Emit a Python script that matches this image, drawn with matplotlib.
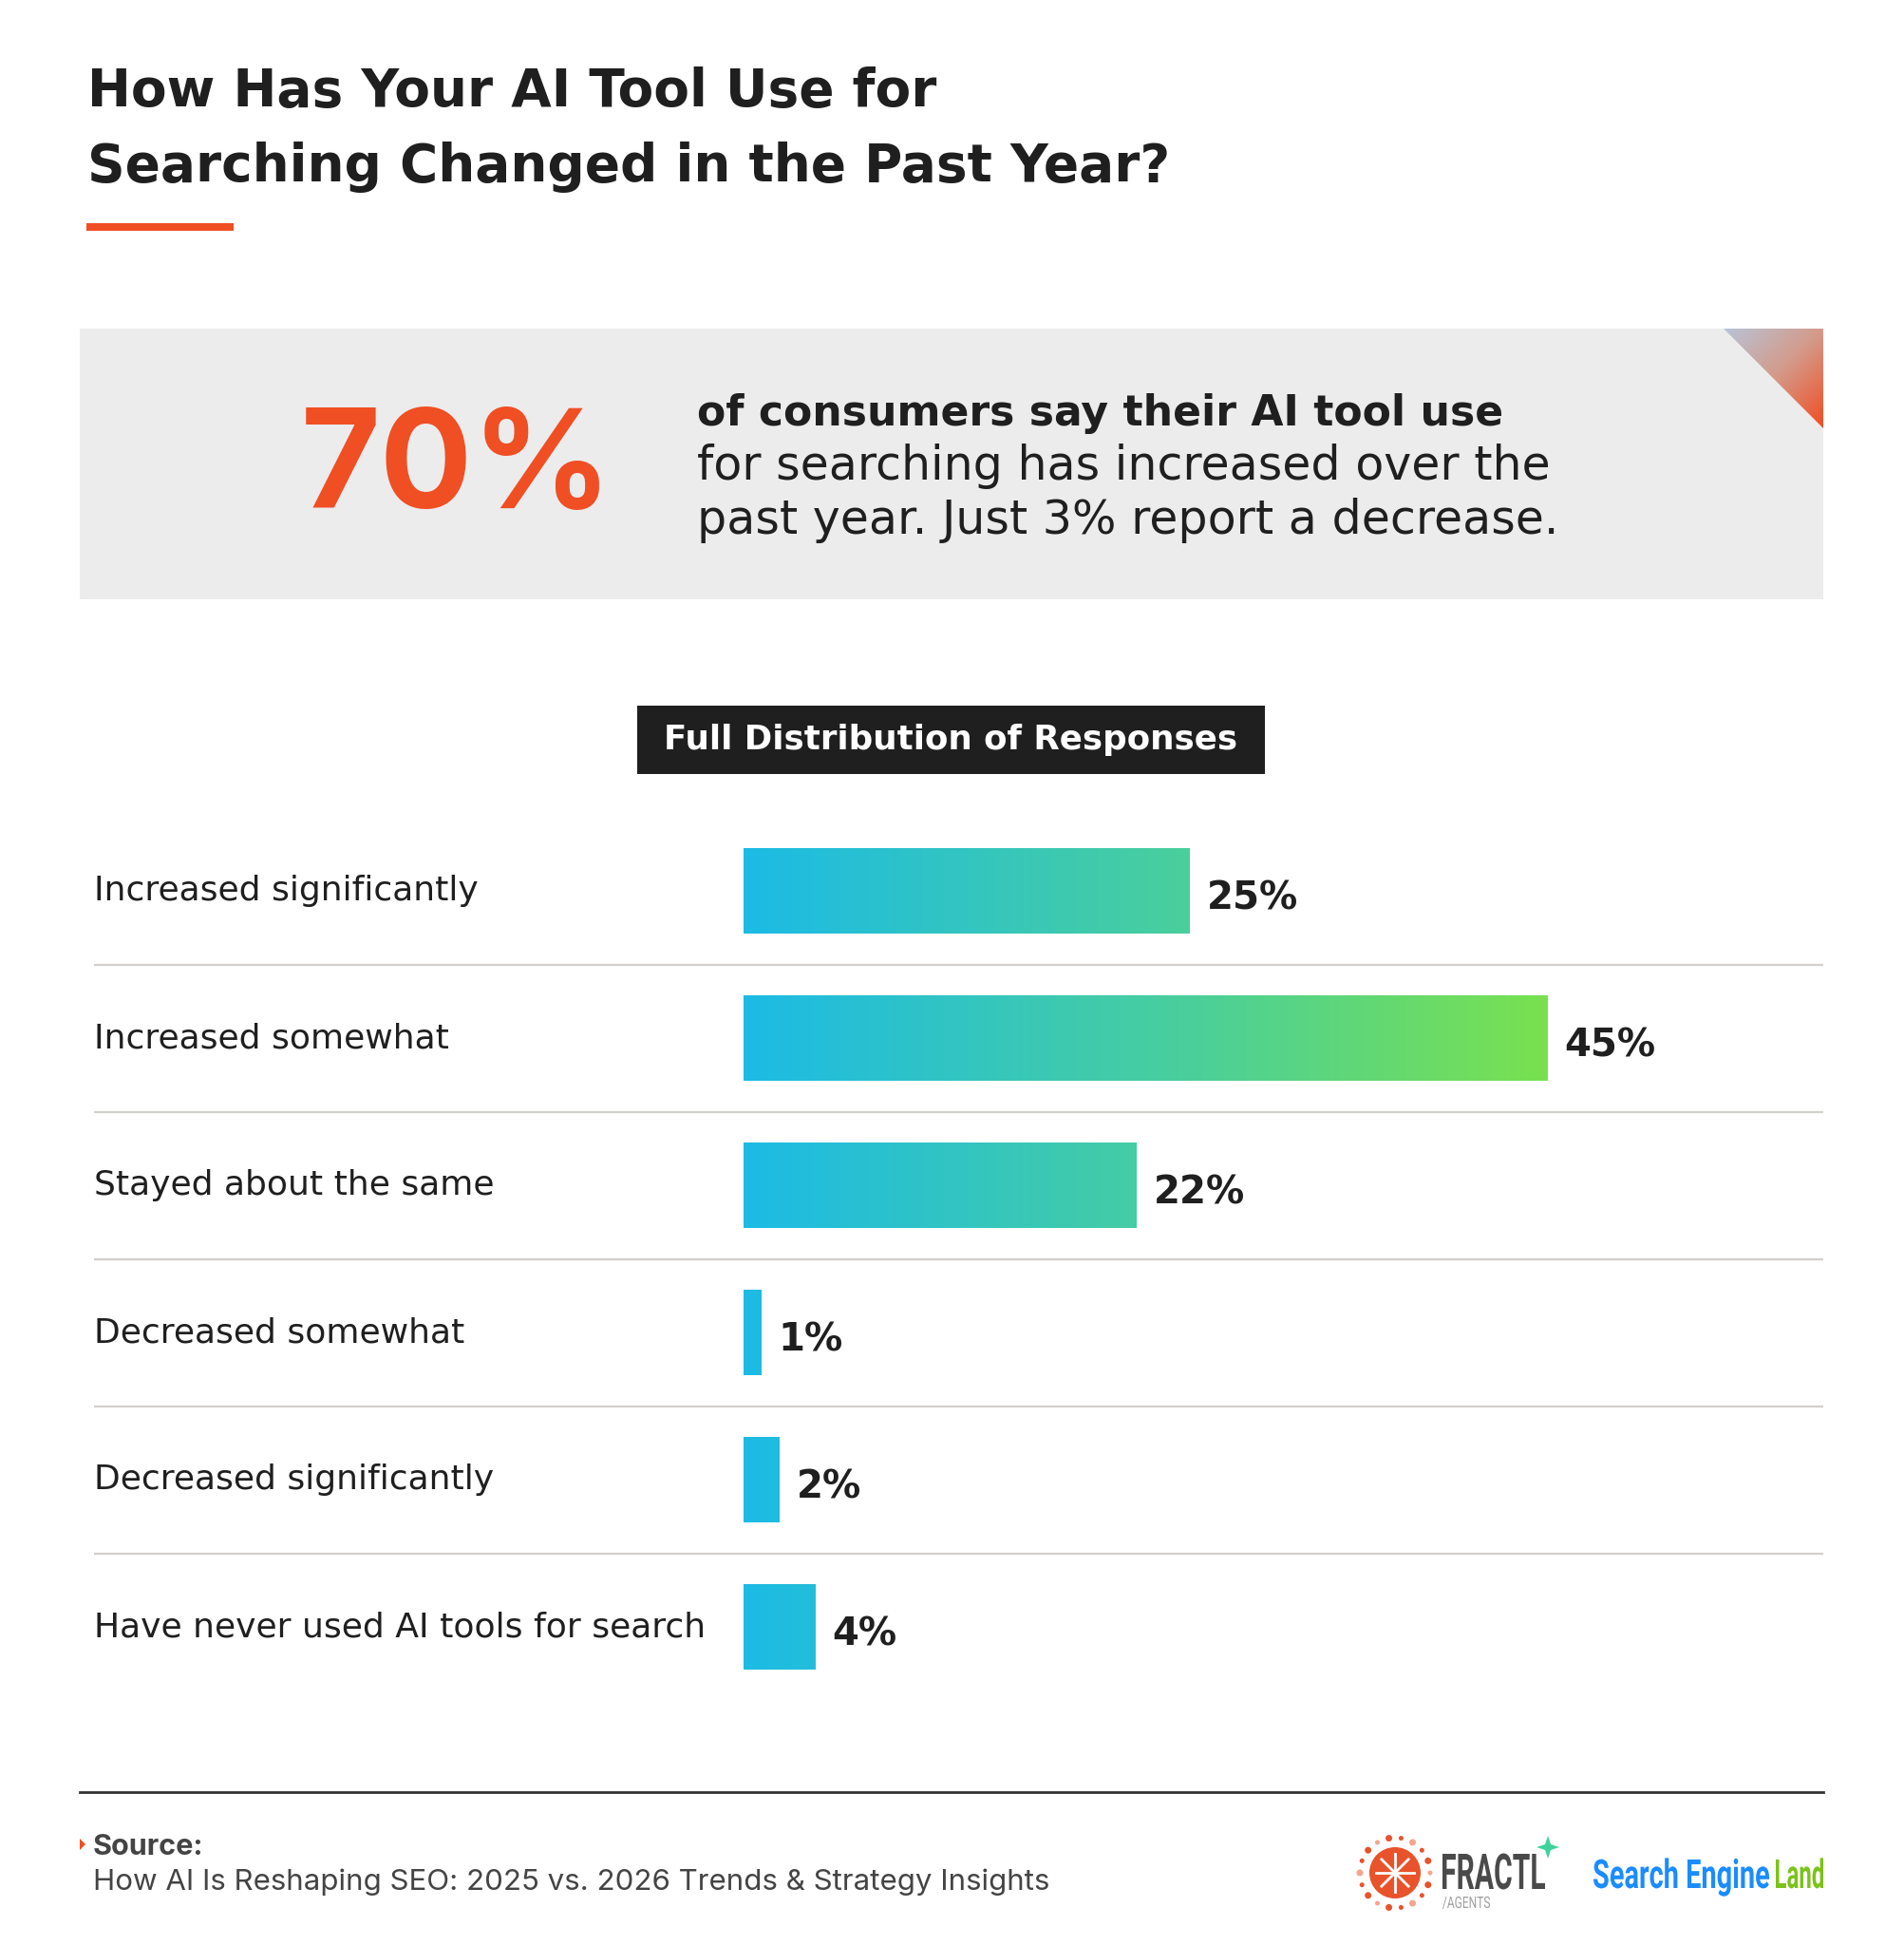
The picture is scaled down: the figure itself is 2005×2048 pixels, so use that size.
import numpy as np
import matplotlib
matplotlib.use("Agg")
import matplotlib.pyplot as plt
from matplotlib.colors import LinearSegmentedColormap
from matplotlib.patches import Rectangle, Polygon, Circle, PathPatch
from matplotlib.textpath import TextPath
from matplotlib.font_manager import FontProperties
from matplotlib.transforms import Affine2D

# ---- data ----
categories = ["Increased significantly", "Increased somewhat", "Stayed about the same",
              "Decreased somewhat", "Decreased significantly",
              "Have never used AI tools for search"]
values = [25, 45, 22, 1, 2, 4]
value_labels = [f"{v}%" for v in values]

title_lines = ["How Has Your AI Tool Use for", "Searching Changed in the Past Year?"]
headline_stat = "70%"
headline_bold = "of consumers say their AI tool use"
headline_rest = ["for searching has increased over the", "past year. Just 3% report a decrease."]
section_title = "Full Distribution of Responses"
source_label = "Source:"
source_text = "How AI Is Reshaping SEO: 2025 vs. 2026 Trends & Strategy Insights"

W, H, DPI = 2005, 2048, 100
ORANGE = "#f04e23"
DARK = "#1f1f1f"
HEAD = "Inter"
WIDE = "DejaVu Sans"

fig = plt.figure(figsize=(W / DPI, H / DPI), dpi=DPI)
fig.patch.set_facecolor("white")

# background axes in pixel units for the decorations
bg = fig.add_axes([0, 0, 1, 1])
bg.set_xlim(0, W)
bg.set_ylim(H, 0)
bg.axis("off")


def fit_text(ax, s, x, baseline, width, height, color, family="Roboto", weight="bold"):
    # squeeze a text path into a box (used for the condensed logo type)
    tp = TextPath((0, 0), s, size=100, prop=FontProperties(family=family, weight=weight))
    ext = tp.get_extents()
    cap = TextPath((0, 0), "H", size=100, prop=FontProperties(family=family, weight=weight)).get_extents()
    sx = width / ext.width
    sy = height / cap.height
    tr = Affine2D().translate(-ext.x0, 0).scale(sx, -sy).translate(x, baseline)
    ax.add_patch(PathPatch(tr.transform_path(tp), facecolor=color, edgecolor="none"))


# title
bg.text(92, 112, title_lines[0], family=WIDE, fontweight="bold", fontsize=39.5, color=DARK, va="baseline")
bg.text(92, 191, title_lines[1], family=WIDE, fontweight="bold", fontsize=39.5, color=DARK, va="baseline")
bg.add_patch(Rectangle((91, 235), 155, 8, color=ORANGE, lw=0))

# callout box
bg.add_patch(Rectangle((84, 346), 1836, 285, color="#ececec", lw=0))
tri = Polygon([(1815, 346), (1920, 346), (1920, 451)], closed=True, facecolor="none", edgecolor="none")
bg.add_patch(tri)
gx, gy = np.meshgrid(np.linspace(0, 1, 100), np.linspace(0, 1, 100))
corner_cmap = LinearSegmentedColormap.from_list("corner", ["#b8c4d8", "#d49a8a", ORANGE])
im = bg.imshow((gx + gy) / 2, cmap=corner_cmap, extent=(1815, 1920, 451, 346),
               origin="upper", aspect="auto", zorder=2)
im.set_clip_path(tri)
bg.set_xlim(0, W)
bg.set_ylim(H, 0)

bg.text(317, 535, headline_stat, family=HEAD, fontweight="bold", fontsize=104, color=ORANGE, va="baseline")
bg.text(734, 448, headline_bold, family=WIDE, fontweight="bold", fontsize=31.8, color=DARK, va="baseline")
for i, line in enumerate(headline_rest):
    bg.text(734, 505 + 57 * i, line, family=WIDE, fontsize=35.3, color=DARK, va="baseline")

# section label
bg.add_patch(Rectangle((671, 743), 661, 72, color=DARK, lw=0))
bg.text(1001, 779, section_title, family=WIDE, fontweight="bold", fontsize=25.7,
        color="white", ha="center", va="center")

# ---- bar chart ----
x0_px, x1_px = 783, 1920
px_per_pct = (1629 - 783) / 45
row0, step = 938, 155
n = len(categories)
top_px = row0 - step / 2
bot_px = row0 + step * (n - 0.5)
ax = fig.add_axes([x0_px / W, 1 - bot_px / H, (x1_px - x0_px) / W, (bot_px - top_px) / H])
ax.set_xlim(0, (x1_px - x0_px) / px_per_pct)
ax.set_ylim(n - 0.5, -0.5)
ax.axis("off")

ypos = np.arange(n)
bars = ax.barh(ypos, values, height=0.575, color="none", edgecolor="none")
bar_cmap = LinearSegmentedColormap.from_list("bars", [(0, "#1cbbe5"), (0.55, "#4acf9c"), (1, "#79e14f")])
grad = np.linspace(0, 1, 256).reshape(1, -1)
for b in bars:
    g = ax.imshow(grad, cmap=bar_cmap, extent=(0, max(values), n - 0.5, -0.5),
                  aspect="auto", zorder=2)
    g.set_clip_path(b)
ax.set_xlim(0, (x1_px - x0_px) / px_per_pct)
ax.set_ylim(n - 0.5, -0.5)

for i, (v, lab) in enumerate(zip(values, value_labels)):
    ax.annotate(lab, (v, i), xytext=(13, -6), textcoords="offset points",
                family=WIDE, fontweight="bold", fontsize=29, color=DARK, va="center")

label_x = (99 - x0_px) / (x1_px - x0_px)
for i, c in enumerate(categories):
    ax.text(label_x, i, c, transform=ax.get_yaxis_transform(), family=WIDE,
            fontsize=26, color=DARK, va="center", clip_on=False)
ax.hlines(ypos[:-1] + 0.5, label_x, 1, transform=ax.get_yaxis_transform(),
          color="#d3cfca", lw=1.6, clip_on=False)

# ---- footer ----
bg.plot([84, 1920], [1887, 1887], color="#333333", lw=2)
bg.add_patch(Polygon([(84, 1936), (90, 1942), (84, 1948)], closed=True, color=ORANGE, lw=0))
bg.text(98, 1953, source_label, family=HEAD, fontweight="bold", fontsize=22, color="#444444", va="baseline")
bg.text(98, 1990, source_text, family=HEAD, fontsize=22.5, color="#444444", va="baseline")

# fractl logo
cx, cy = 1469, 1972
bg.add_patch(Circle((cx, cy), 27, color="#e8532b", lw=0, zorder=3))
for a in np.linspace(0, np.pi, 4, endpoint=False):
    bg.plot([cx - 20 * np.cos(a), cx + 20 * np.cos(a)], [cy - 20 * np.sin(a), cy + 20 * np.sin(a)],
            color="white", lw=2, zorder=4)
for k, a in enumerate(np.linspace(0, 2 * np.pi, 18, endpoint=False)):
    bg.add_patch(Circle((cx + 37 * np.cos(a), cy + 37 * np.sin(a)), 3.5 if k % 2 else 2.5,
                        color="#e8532b" if k % 3 else "#f6a58e", lw=0, zorder=3))
fit_text(bg, "FRACTL", 1519, 1989, 108, 37, "#4a4a4a", family="Roboto", weight="bold")
fit_text(bg, "/AGENTS", 1519, 2009, 50, 12, "#a0a0a0", family="Roboto", weight="normal")
sx, sy = 1630, 1945
bg.add_patch(Polygon([(sx, sy - 12), (sx + 3, sy - 3), (sx + 12, sy), (sx + 3, sy + 3),
                      (sx, sy + 12), (sx - 3, sy + 3), (sx - 12, sy), (sx - 3, sy - 3)],
                     closed=True, color="#3ed39a", lw=0))

# search engine land logo
fit_text(bg, "Search Engine", 1678, 1988, 185, 30, "#1a8cff", family="Roboto", weight="bold")
fit_text(bg, "Land", 1870, 1988, 50, 30, "#7cc21b", family="Roboto", weight="bold")

fig.savefig("out.png", dpi=DPI, facecolor="white")
